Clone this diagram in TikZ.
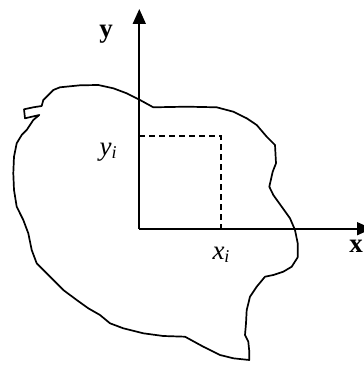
\documentclass[tikz,border=0pt]{standalone}
\usepackage{fontspec}
\setmainfont{Liberation Serif}
\usetikzlibrary{arrows.meta}
\begin{document}
\begin{tikzpicture}[x=1pt,y=-1pt,
  axis/.style={line width=1.7pt,-{Triangle[width=13pt,length=15pt]}},
  blob/.style={line width=1.7pt,line join=round},
  guide/.style={line width=1.5pt,dash pattern=on 6pt off 4pt},
  lbl/.style={font=\fontsize{27}{30}\selectfont,inner sep=0pt}]
\useasboundingbox (0,0) rectangle (363,371);
\coordinate (O) at (139.3,228.7);
\coordinate (ytip) at (139.3,9);
\coordinate (xtip) at (372,228.7);
\coordinate (P) at (221,136);
\coordinate (Py) at (139.3,136);
\coordinate (Px) at (221,228.7);
\draw[blob] plot coordinates {(153.3,107.3) (186.7,106.7) (216.7,107.3) (233.3,111.7) (246.7,118.3) (256.7,125) (266.7,136.7) (275,145) (276,163.3) (272.7,171.7) (269.3,186.7) (273.3,195) (281.7,206.7) (290,218.3) (295,230) (297.7,243.3) (297.7,257.3) (291.7,266.7) (283.3,271.7) (273.3,275) (265,276.7) (256.7,286.7) (250,296.7) (246.7,310) (246,323.3) (245,335) (248.3,341.7) (249.3,351.7) (249.3,360) (233.3,358.3) (220,355) (203.3,346.7) (185,336.7) (163.3,336) (143.3,333.3) (123.3,328.3) (110,323.3) (100,315) (88.3,308.3) (76.7,300) (63.3,290) (50,276.7) (36.7,263.3) (31.7,250) (28.3,233.3) (23.3,220) (16.7,206.7) (14,190) (13.3,173.3) (14,156.7) (16.7,143.3) (21.7,135) (26.7,130) (30,125) (33.3,120) (39.3,115) (25,118.3) (24,109.3) (33.3,107.3) (41.7,106) (43.3,100) (46.7,96.7) (53.3,90) (60,87.3) (80,85.3) (98.3,85) (113.3,88.3) (126.7,93.3) (140,100) (153.3,107.3)} -- cycle;
\draw[axis] (O) -- (ytip);
\draw[axis] (O) -- (xtip);
\draw[guide] (Py) -- (P) -- (Px);
\node[lbl] (ylab) at (106,34) {\textbf{y}};
\node[lbl] (xlab) at (356,246) {\textbf{x}};
\node[lbl] (yi) at (108,152) {\textit{y}\raisebox{-0.25ex}{\fontsize{18}{20}\selectfont\textit{i}}};
\node[lbl] (xi) at (221,255) {\textit{x}\raisebox{-0.25ex}{\fontsize{18}{20}\selectfont\textit{i}}};
\end{tikzpicture}
\end{document}
